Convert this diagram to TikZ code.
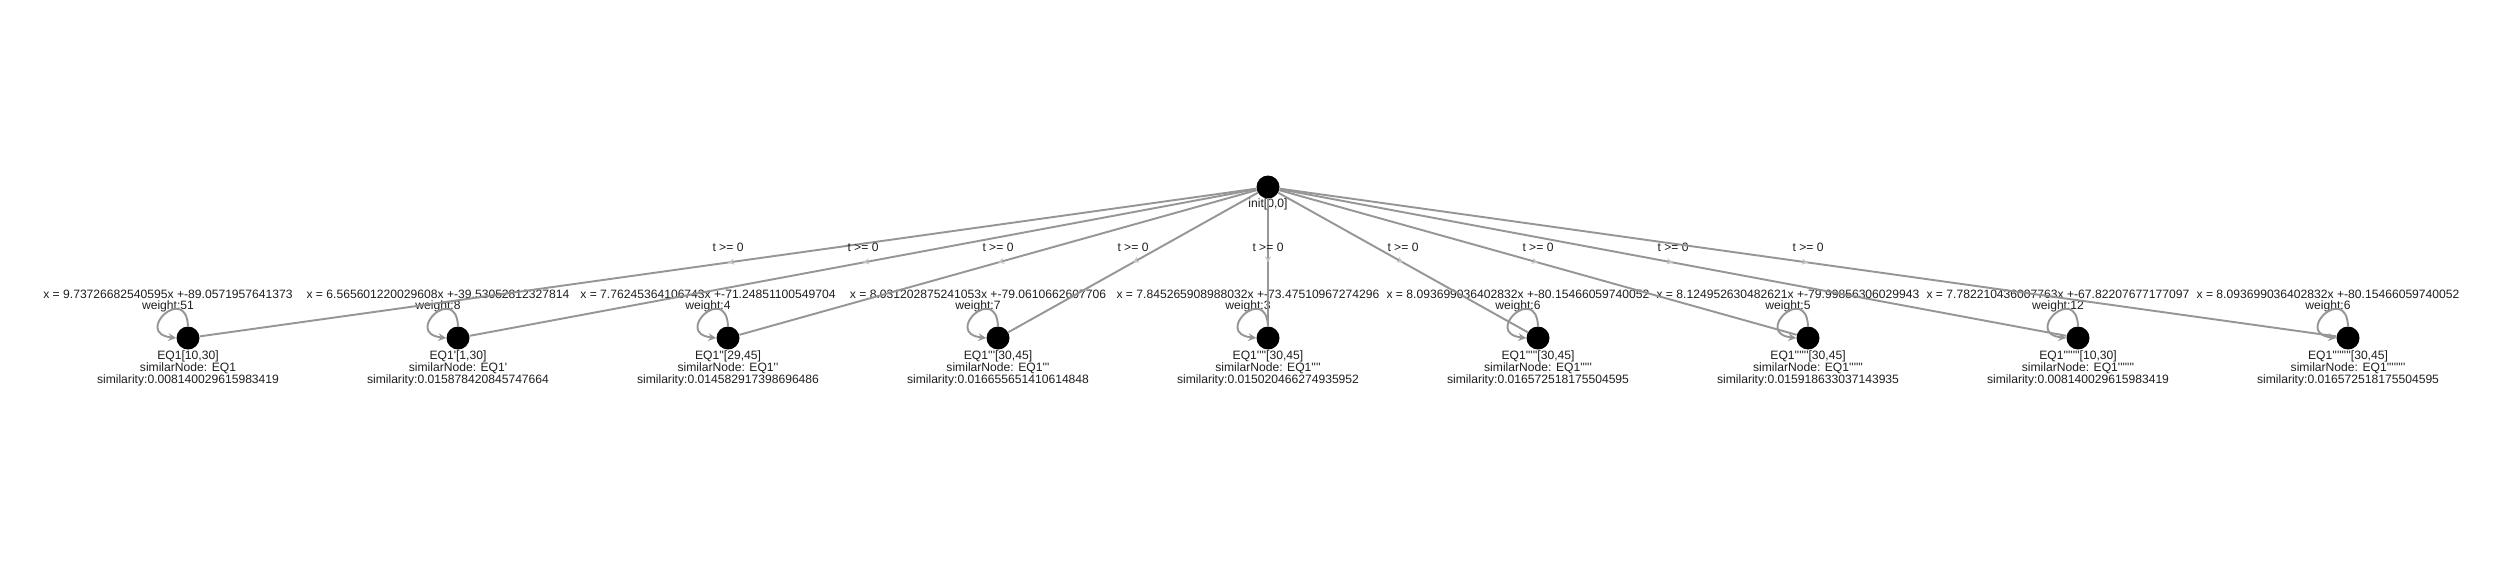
\documentclass[tikz,border=0pt]{standalone}
\usepackage{fontspec}
\newfontfamily\lab{Liberation Sans}
\usetikzlibrary{arrows.meta,decorations.markings}
\definecolor{edgecol}{RGB}{150,150,150}
\definecolor{txtcol}{RGB}{30,30,30}
\definecolor{midarr}{RGB}{195,195,195}
\tikzset{
  dot/.style={circle,fill=black,inner sep=0pt,minimum size=0.46cm},
  txt/.style={font=\lab\fontsize{6.9pt}{6.8pt}\selectfont,text=txtcol,align=center,inner sep=0pt},
  edge/.style={draw=edgecol,line width=1.1pt},
  treeedge/.style={edge,postaction={decorate},
    decoration={markings,mark=at position 0.5 with {\arrow{Stealth[length=3.5pt,width=3.5pt,color=midarr]}}}},
  loopedge/.style={edge,-{Stealth[length=4.5pt,width=4.5pt]}},
}
\newcommand\mkchild[7]{%
  \node[txt] (#1w) at (#2-20,301) {#3\\weight:#4};
  \node[dot] (#1) at (#2,338) {};
  \node[txt] (#1l) at (#2,368) {#5\\similarNode: #6\\similarity:#7};
  \draw[loopedge] (#1.north) .. controls (#2-2,283) and (#2-55,333) .. (#1.west);
}
\begin{document}
\begin{tikzpicture}[x=0.02cm,y=-0.02cm]
\useasboundingbox (0,0) rectangle (2500,562);
\node[dot] (r) at (1268,187) {};
\node[txt] (rl) at (1268,204) {init[0,0]};
\mkchild{c1}{188}{x = 9.73726682540595x +-89.0571957641373}{51}{EQ1[10,30]}{EQ1}{0.008140029615983419}
\mkchild{c2}{458}{x = 6.565601220029608x +-39.53052812327814}{8}{EQ1'[1,30]}{EQ1'}{0.015878420845747664}
\mkchild{c3}{728}{x = 7.76245364106743x +-71.24851100549704}{4}{EQ1''[29,45]}{EQ1''}{0.014582917398696486}
\mkchild{c4}{998}{x = 8.031202875241053x +-79.0610662607706}{7}{EQ1'''[30,45]}{EQ1'''}{0.016655651410614848}
\mkchild{c5}{1268}{x = 7.845265908988032x +-73.47510967274296}{3}{EQ1''''[30,45]}{EQ1''''}{0.015020466274935952}
\mkchild{c6}{1538}{x = 8.093699036402832x +-80.15466059740052}{6}{EQ1'''''[30,45]}{EQ1'''''}{0.016572518175504595}
\mkchild{c7}{1808}{x = 8.124952630482621x +-79.99856306029943}{5}{EQ1''''''[30,45]}{EQ1''''''}{0.015918633037143935}
\mkchild{c8}{2078}{x = 7.782210436007763x +-67.82207677177097}{12}{EQ1'''''''[10,30]}{EQ1'''''''}{0.008140029615983419}
\mkchild{c9}{2348}{x = 8.093699036402832x +-80.15466059740052}{6}{EQ1''''''''[30,45]}{EQ1''''''''}{0.016572518175504595}
\foreach \c in {c1,c2,c3,c4,c5,c6,c7,c8,c9}{
  \draw[treeedge] (r) -- node[txt,yshift=8.5pt]{t >= 0} (\c);
}
\end{tikzpicture}
\end{document}
